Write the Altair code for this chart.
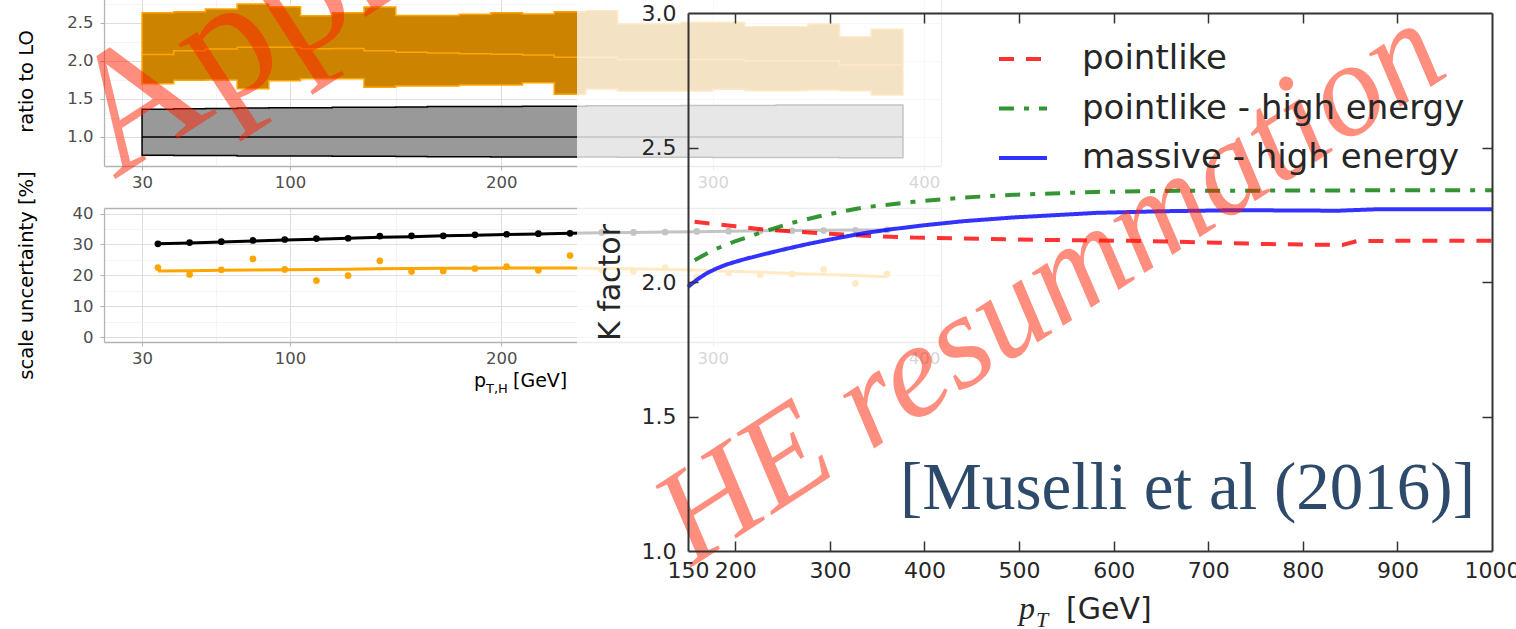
import altair as alt
import pandas as pd

# ---------------- ratio to LO, 15 GeV bins in p_T,H ----------------
bin_edges = [30, 45, 60, 75, 90, 105, 120, 135, 150, 165, 180, 195, 210, 225,
             240, 255, 270, 285, 300, 315, 330, 345, 360, 375, 390]
bin_mid = [37.5, 52.5, 67.5, 82.5, 97.5, 112.5, 127.5, 142.5, 157.5, 172.5, 187.5, 202.5,
           217.5, 232.5, 247.5, 262.5, 277.5, 292.5, 307.5, 322.5, 337.5, 352.5, 367.5, 382.5]

lo_up = [1.364, 1.37, 1.375, 1.38, 1.385, 1.385, 1.39, 1.39, 1.395, 1.40, 1.40, 1.40,
         1.405, 1.405, 1.41, 1.41, 1.41, 1.415, 1.415, 1.415, 1.42, 1.42, 1.42, 1.42]
lo_mid = [1.0, 1.0, 1.0, 1.0, 1.0, 1.0, 1.0, 1.0, 1.0, 1.0, 1.0, 1.0,
          1.0, 1.0, 1.0, 1.0, 1.0, 1.0, 1.0, 1.0, 1.0, 1.0, 1.0, 1.0]
lo_dn = [0.76, 0.755, 0.755, 0.75, 0.75, 0.748, 0.745, 0.745, 0.742, 0.74, 0.74, 0.738,
         0.736, 0.735, 0.735, 0.733, 0.733, 0.732, 0.731, 0.73, 0.73, 0.729, 0.728, 0.728]

nlo_up = [2.636, 2.649, 2.684, 2.75, 2.714, 2.596, 2.633, 2.71, 2.60, 2.60, 2.616, 2.636,
          2.618, 2.649, 2.66, 2.487, 2.487, 2.51, 2.51, 2.45, 2.45, 2.487, 2.32, 2.417]
nlo_mid = [2.085, 2.136, 2.158, 2.18, 2.182, 2.16, 2.163, 2.135, 2.115, 2.105, 2.095, 2.088,
           2.079, 2.049, 2.049, 2.02, 2.02, 2.02, 2.02, 2.0, 2.0, 2.0, 1.947, 1.947]
nlo_dn = [1.70, 1.745, 1.75, 1.635, 1.74, 1.765, 1.765, 1.654, 1.671, 1.671, 1.684, 1.684,
          1.714, 1.562, 1.63, 1.605, 1.605, 1.605, 1.627, 1.609, 1.609, 1.618, 1.609, 1.553]

# scale uncertainty [%] per bin and its smoothed trend
lo_unc = [30.2, 30.6, 30.9, 31.3, 31.6, 31.9, 32.0, 32.7, 32.8, 32.8, 33.1, 33.3,
          33.5, 33.6, 33.9, 33.9, 34.0, 34.2, 34.3, 34.4, 34.4, 34.5, 34.6, 34.7]
lo_unc_fit = [30.2, 30.5, 30.8, 31.1, 31.4, 31.7, 32.0, 32.3, 32.5, 32.8, 33.0, 33.2,
              33.4, 33.6, 33.8, 33.9, 34.0, 34.1, 34.3, 34.4, 34.5, 34.6, 34.7, 34.7]
nlo_unc = [22.5, 20.3, 21.8, 25.3, 21.9, 18.3, 19.9, 24.7, 21.2, 21.4, 22.2, 22.8,
           21.6, 26.4, 21.8, 21.3, 22.4, 19.4, 20.8, 20.2, 20.4, 21.9, 17.4, 20.4]
nlo_unc_fit = [21.4, 21.5, 21.6, 21.7, 21.8, 21.9, 22.0, 22.1, 22.2, 22.3, 22.3, 22.4,
               22.4, 22.4, 22.2, 22.1, 21.9, 21.7, 21.3, 21.0, 20.6, 20.3, 19.9, 19.5]

ratio_x_ticks = [30, 100, 200, 300, 400]
ratio_x_minor = [65, 150, 250, 350]
ratio_y_ticks = [1.0, 1.5, 2.0, 2.5]
ratio_y_minor = [0.75, 1.25, 1.75, 2.25, 2.75]
unc_y_ticks = [0, 10, 20, 30, 40]
unc_y_minor = [5, 15, 25, 35]

# ---------------- K factor versus p_T ----------------
series = ["pointlike", "pointlike - high energy", "massive - high energy"]
pt_pointlike = [157, 200, 229, 282, 339, 388, 441, 494, 564, 620, 667, 709, 751, 800,
                842, 857, 900, 950, 1000]
k_pointlike = [2.224, 2.207, 2.195, 2.183, 2.172, 2.165, 2.162, 2.158, 2.155, 2.153,
               2.150, 2.146, 2.142, 2.139, 2.138, 2.152, 2.153, 2.153, 2.153]
pt_pointlike_he = [157, 176, 198, 229, 258, 293, 335, 388, 441, 494, 582, 667, 800,
                   900, 1000]
k_pointlike_he = [2.081, 2.118, 2.149, 2.186, 2.218, 2.248, 2.277, 2.298, 2.314, 2.324,
                  2.335, 2.339, 2.340, 2.341, 2.341]
pt_massive_he = [150, 160, 170, 180, 190, 200, 212, 230, 250, 275, 300, 335, 365, 400,
                 441, 494, 582, 650, 730, 837, 875, 1000]
k_massive_he = [1.982, 2.010, 2.033, 2.050, 2.064, 2.075, 2.087, 2.103, 2.120, 2.140,
                2.158, 2.181, 2.196, 2.211, 2.226, 2.240, 2.257, 2.263, 2.267, 2.265,
                2.270, 2.270]

k_x_labels = [150, 200, 300, 400, 500, 600, 700, 800, 900, 1000]
k_x_ticks = [200, 300, 400, 500, 600, 700, 800, 900]
k_y_labels = [1.0, 1.5, 2.0, 2.5, 3.0]
k_y_ticks = [1.5, 2.0, 2.5]

# ---------------- tables ----------------
def close_last(vals):
    # step-after areas need the last bin value repeated at the upper edge
    return list(vals) + [vals[-1]]

band = pd.DataFrame({
    "pt": bin_edges,
    "lo_up": close_last(lo_up), "lo_mid": close_last(lo_mid), "lo_dn": close_last(lo_dn),
    "nlo_up": close_last(nlo_up), "nlo_mid": close_last(nlo_mid), "nlo_dn": close_last(nlo_dn),
})
unc = pd.DataFrame({"pt": bin_mid, "lo": lo_unc, "lo_fit": lo_unc_fit,
                    "nlo": nlo_unc, "nlo_fit": nlo_unc_fit})
kf = pd.concat([
    pd.DataFrame({"pt": pt_pointlike, "k": k_pointlike, "curve": series[0]}),
    pd.DataFrame({"pt": pt_pointlike_he, "k": k_pointlike_he, "curve": series[1]}),
    pd.DataFrame({"pt": pt_massive_he, "k": k_massive_he, "curve": series[2]}),
], ignore_index=True)

W, H = 1516, 629
GRID_MAJ, GRID_MIN, BORDER, TICKTXT = "#DEDEDE", "#EFEFEF", "#B3B3B3", "#4D4D4D"
DARK = "#262626"
FRAME = "#333333"
SANS = "DejaVu Sans"
SERIF = "Liberation Serif"

# left panels share the same p_T,H axis
rx = alt.Scale(domain=[12, 408], range=[104, 941], nice=False, zero=False)
ry = alt.Scale(domain=[0.618, 2.855], range=[166, -4], nice=False, zero=False)
uy = alt.Scale(domain=[-1.6, 41.8], range=[342, 208], nice=False, zero=False)
# K-factor panel
kx = alt.Scale(domain=[150, 1000], range=[688, 1492], nice=False, zero=False)
ky = alt.Scale(domain=[1, 3], range=[551, 13], nice=False, zero=False)


def label_x_axis(bottom):
    return alt.Axis(orient="bottom", offset=bottom - H, values=ratio_x_ticks, format="d",
                    grid=False, domain=True, domainColor=BORDER, domainWidth=1.3,
                    ticks=True, tickColor=BORDER, tickSize=4, tickWidth=1.1,
                    labelFont=SANS, labelFontSize=16.5, labelColor=TICKTXT, labelPadding=4,
                    labelFlush=False, labelOverlap=False, title=None, zindex=0)


def label_y_axis(values, fmt, title):
    return alt.Axis(orient="left", offset=-104, values=values, format=fmt,
                    grid=True, gridColor=GRID_MAJ, gridWidth=1,
                    domain=True, domainColor=BORDER, domainWidth=1.3,
                    ticks=True, tickColor=BORDER, tickSize=4, tickWidth=1.1,
                    labelFont=SANS, labelFontSize=16.5, labelColor=TICKTXT, labelPadding=7,
                    title=title, titleFont=SANS, titleFontSize=19.5, titleFontWeight="normal",
                    titleColor="black", titleX=-68, zindex=0)


def guide_axis(orient, values=None, grid_color=GRID_MAJ, grid_width=1.0, offset=0,
               domain=False):
    kw = dict(orient=orient, offset=offset, labels=False, ticks=False, domain=domain,
              domainColor=BORDER, domainWidth=1.3, title=None, zindex=0)
    if values is not None:
        kw.update(values=values, grid=True, gridColor=grid_color, gridWidth=grid_width)
    else:
        kw.update(grid=False)
    return alt.Axis(**kw)


def ghost(df, xf, yf, xs, ys, xaxis, yaxis):
    return alt.Chart(df).mark_point(opacity=0, size=1).encode(
        x=alt.X(f"{xf}:Q", scale=xs, axis=xaxis),
        y=alt.Y(f"{yf}:Q", scale=ys, axis=yaxis),
    )


# ---- ratio to LO panel ----
ratio_base = alt.Chart(band)
lo_band = ratio_base.mark_area(interpolate="step-after", fill="#999999", stroke="black",
                               strokeWidth=1.5).encode(
    x=alt.X("pt:Q", scale=rx, axis=label_x_axis(166)),
    y=alt.Y("lo_dn:Q", scale=ry, axis=label_y_axis(ratio_y_ticks, ".1f", "ratio to LO")),
    y2="lo_up:Q")
nlo_band = ratio_base.mark_area(interpolate="step-after", fill="#CC8400", stroke="#FFA500",
                                strokeWidth=1.5).encode(
    x=alt.X("pt:Q", scale=rx, axis=None),
    y=alt.Y("nlo_dn:Q", scale=ry, axis=None),
    y2="nlo_up:Q")
lo_center = ratio_base.mark_line(interpolate="step-after", color="black",
                                 strokeWidth=1.5).encode(
    x=alt.X("pt:Q", scale=rx, axis=None),
    y=alt.Y("lo_mid:Q", scale=ry, axis=None))
nlo_center = ratio_base.mark_line(interpolate="step-after", color="#FFA500",
                                  strokeWidth=1.5).encode(
    x=alt.X("pt:Q", scale=rx, axis=None),
    y=alt.Y("nlo_mid:Q", scale=ry, axis=None))
ratio_grid_a = ghost(band, "pt", "lo_mid", rx, ry,
                     guide_axis("top", ratio_x_ticks, offset=4, domain=True),
                     guide_axis("left", ratio_y_minor, GRID_MIN, 0.7, offset=-104))
ratio_grid_b = ghost(band, "pt", "lo_mid", rx, ry,
                     guide_axis("top", ratio_x_minor, GRID_MIN, 0.7, offset=4),
                     guide_axis("right", offset=941 - W, domain=True))

# ---- scale uncertainty panel ----
unc_base = alt.Chart(unc)
lo_trend = unc_base.mark_line(color="black", strokeWidth=3).encode(
    x=alt.X("pt:Q", scale=rx, axis=label_x_axis(342)),
    y=alt.Y("lo_fit:Q", scale=uy, axis=label_y_axis(unc_y_ticks, "d",
                                                     "scale uncertainty [%]")))
lo_dots = unc_base.mark_circle(color="black", size=45, opacity=1).encode(
    x=alt.X("pt:Q", scale=rx, axis=None),
    y=alt.Y("lo:Q", scale=uy, axis=None))
nlo_trend = unc_base.mark_line(color="#FFA500", strokeWidth=3).encode(
    x=alt.X("pt:Q", scale=rx, axis=None),
    y=alt.Y("nlo_fit:Q", scale=uy, axis=None))
nlo_dots = unc_base.mark_circle(color="#FFA500", size=45, opacity=1).encode(
    x=alt.X("pt:Q", scale=rx, axis=None),
    y=alt.Y("nlo:Q", scale=uy, axis=None))
unc_grid_a = ghost(unc, "pt", "lo", rx, uy,
                   guide_axis("top", ratio_x_ticks, offset=-208, domain=True),
                   guide_axis("left", unc_y_minor, GRID_MIN, 0.7, offset=-104))
unc_grid_b = ghost(unc, "pt", "lo", rx, uy,
                   guide_axis("top", ratio_x_minor, GRID_MIN, 0.7, offset=-208),
                   guide_axis("right", offset=941 - W, domain=True))


def note(text, x, y, size, font=SANS, style="normal", color="black", align="left",
         angle=0, opacity=1.0):
    return alt.Chart(pd.DataFrame({"t": [text]})).mark_text(
        font=font, fontSize=size, fontStyle=style, color=color, align=align,
        baseline="alphabetic", angle=angle, opacity=opacity,
    ).encode(text="t:N", x=alt.value(x), y=alt.value(y))


# x title of the left panels: p_{T,H} [GeV]
left_p = note("p", 474, 387, 19)
left_sub = note("T,H", 486, 393, 13)
left_gev = note("[GeV]", 513, 387, 19)

# semi-transparent white canvas of the K-factor figure
canvas = alt.Chart(pd.DataFrame({"v": [0]})).mark_rect(color="white", opacity=0.77).encode(
    x=alt.value(577), x2=alt.value(W), y=alt.value(0), y2=alt.value(H))

# ---- K factor panel ----
legend = alt.Legend(orient="none", legendX=997, legendY=33, title=None, padding=0,
                    labelFont=SANS, labelFontSize=34, labelColor=DARK, labelLimit=0,
                    labelOffset=33, symbolType="stroke", symbolSize=2304,
                    symbolStrokeWidth=4, rowPadding=6.5)
k_lines = alt.Chart(kf).mark_line(strokeWidth=4, opacity=0.8).encode(
    x=alt.X("pt:Q", scale=kx,
            axis=alt.Axis(orient="bottom", offset=551 - H, values=k_x_labels, format="d",
                          grid=False, domain=False, ticks=False, tickSize=0,
                          labelFont=SANS, labelFontSize=22, labelColor=DARK, labelPadding=9,
                          labelFlush=False, labelOverlap=False, title=None, zindex=1)),
    y=alt.Y("k:Q", scale=ky,
            axis=alt.Axis(orient="left", offset=-688, values=k_y_labels, format=".1f",
                          grid=False, domain=False, ticks=False, tickSize=0,
                          labelFont=SANS, labelFontSize=22, labelColor=DARK, labelPadding=12,
                          title="K factor", titleFont=SANS, titleFontSize=30,
                          titleFontWeight="normal", titleColor=DARK, titleX=-63, zindex=1)),
    color=alt.Color("curve:N", scale=alt.Scale(domain=series,
                                               range=["#FF0000", "#007A00", "#0000FF"]),
                    legend=legend),
    strokeDash=alt.StrokeDash("curve:N", scale=alt.Scale(domain=series,
                                                         range=[[15, 12], [15, 10, 5, 10], [1, 0]]),
                              legend=legend),
    detail="curve:N",
)


def frame_axis(orient, values, offset):
    return alt.Axis(orient=orient, offset=offset, values=values, grid=False, labels=False,
                    domain=True, domainColor=FRAME, domainWidth=2,
                    ticks=True, tickColor=FRAME, tickSize=10, tickWidth=1.5,
                    title=None, zindex=1)


k_frame_a = ghost(kf, "pt", "k", kx, ky,
                  frame_axis("top", k_x_ticks, -551),     # bottom edge, ticks pointing in
                  frame_axis("right", k_y_ticks, 688 - W))  # left edge
k_frame_b = ghost(kf, "pt", "k", kx, ky,
                  frame_axis("bottom", k_x_ticks, 13 - H),   # top edge
                  frame_axis("left", k_y_ticks, -1492))      # right edge

k_p = note("p", 1019, 619, 32, font=SERIF, style="italic", color=DARK)
k_sub = note("T", 1036, 627, 22, font=SERIF, style="italic", color=DARK)
k_gev = note("[GeV]", 1066, 619, 30, color=DARK)

citation = note("[Muselli et al (2016)]", 1475, 509, 67, font=SERIF, color="#2E4A6B",
                align="right")
stamp_he = note("HE resummation", 1072, 320, 134, font=SERIF, style="italic",
                color="#FF2000", align="center", angle=327, opacity=0.5)
stamp_approx = note("Approx", 114, 180, 172, font=SERIF, color="#FF2000", angle=327,
                    opacity=0.5)

chart = alt.layer(
    lo_band, nlo_band, lo_center, nlo_center, ratio_grid_a, ratio_grid_b,
    lo_trend, lo_dots, nlo_trend, nlo_dots, unc_grid_a, unc_grid_b,
    left_p, left_sub, left_gev,
    canvas,
    k_lines, k_frame_a, k_frame_b, k_p, k_sub, k_gev,
    citation, stamp_approx, stamp_he,
).resolve_scale(
    x="independent", y="independent", color="independent", strokeDash="independent"
).properties(
    width=W, height=H, padding=0,
    autosize=alt.AutoSizeParams(type="none"),
    background="white",
).configure_view(stroke=None)

chart.save("out.html", embed_options={"renderer": "svg", "actions": False})
